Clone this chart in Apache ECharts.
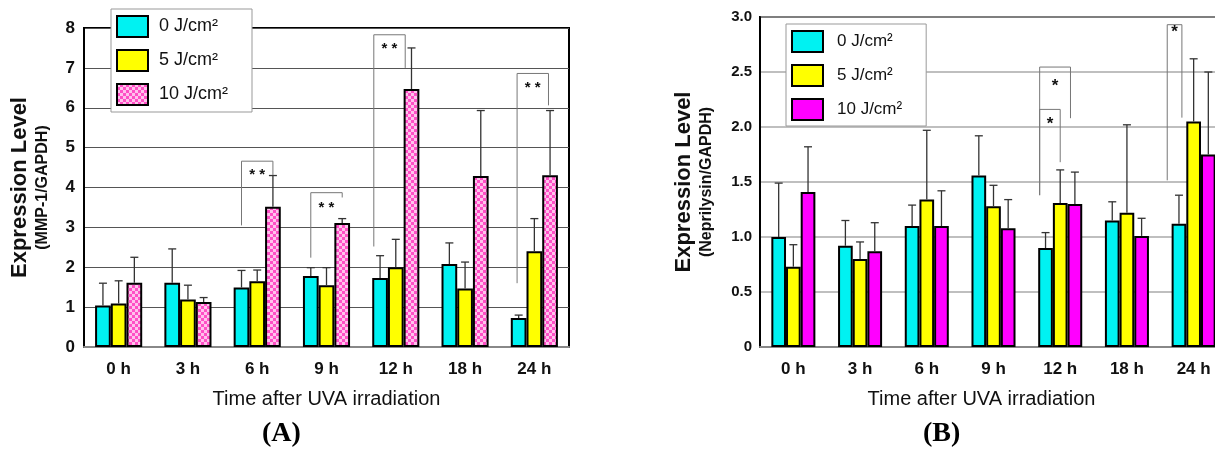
<!DOCTYPE html>
<html>
<head>
<meta charset="utf-8">
<script src="https://cdn.jsdelivr.net/npm/echarts@6/dist/echarts.min.js"></script>
<style>
  html, body { margin: 0; padding: 0; background: #fff; overflow: hidden; }
  /* a bit wider than the window so panel B runs off the right edge like the source */
  #chart { width: 1240px; height: 452px; }
</style>
</head>
<body>
<div id="chart"></div>
<script>
// time points and doses
const hours = ['0 h', '3 h', '6 h', '9 h', '12 h', '18 h', '24 h']
const doses = ['0 J/cm²', '5 J/cm²', '10 J/cm²']

// (A) MMP-1 / GAPDH
const mmp0 = [1.04, 1.61, 1.49, 1.78, 1.73, 2.08, 0.73]
const mmp5 = [1.09, 1.19, 1.65, 1.55, 2.00, 1.47, 2.40]
const mmp10 = [1.61, 1.13, 3.52, 3.11, 6.47, 4.29, 4.31]
const mmpSd0 = [0.56, 0.85, 0.43, 0.21, 0.56, 0.53, 0.07]
const mmpSd5 = [0.57, 0.36, 0.28, 0.44, 0.70, 0.66, 0.82]
const mmpSd10 = [0.64, 0.11, 0.78, 0.11, 1.03, 1.64, 1.62]

// (B) Neprilysin / GAPDH
const nep0 = [1.00, 0.92, 1.10, 1.56, 0.90, 1.15, 1.12]
const nep5 = [0.73, 0.80, 1.34, 1.28, 1.31, 1.22, 2.05]
const nep10 = [1.41, 0.87, 1.10, 1.08, 1.30, 1.01, 1.75]
const nepSd0 = [0.49, 0.23, 0.19, 0.36, 0.14, 0.17, 0.26]
const nepSd5 = [0.20, 0.155, 0.63, 0.19, 0.30, 0.80, 0.57]
const nepSd10 = [0.41, 0.26, 0.32, 0.26, 0.29, 0.16, 0.75]

// significance brackets: [category, left slot, right slot, top, left end, right end, label y, text]
const mmpStars = [
  [2, -1, 1, 4.66, 3.05, 4.31, 4.31, '* *'],
  [3, -1, 1, 3.87, 2.24, 3.75, 3.50, '* *'],
  [4, -1.4, 0.6, 7.83, 2.52, 7.00, 7.47, '* *'],
  [6, -1.1, 0.9, 6.86, 1.60, 6.06, 6.50, '* *']
]
const nepStars = [
  [4, -1.4, 0.7, 2.545, 1.38, 2.08, 2.37, '*'],
  [4, -1.4, 0, 2.16, 1.38, 1.68, 2.02, '*'],
  [6, -1.8, -0.8, 2.93, 1.515, 2.085, 2.86, '*']
]

// checkered pink fill for the 10 J/cm2 bars in (A)
const pat = document.createElement('canvas')
pat.width = 6
pat.height = 6
const pctx = pat.getContext('2d')
pctx.fillStyle = '#ff4fc6'
pctx.fillRect(0, 0, 6, 6)
pctx.fillStyle = '#ffc2ec'
pctx.fillRect(0, 0, 3, 3)
pctx.fillRect(3, 3, 3, 3)

const mmpColors = ['#00f2f2', '#ffff00', { image: pat, repeat: 'repeat' }]
const nepColors = ['#00f2f2', '#ffff00', '#ff00ff']

const font = 'Liberation Sans, Arial, sans-serif'

function errSeries(idx, gap, means, sds) {
  const data = []
  means.forEach((m, s) => {
    m.forEach((v, c) => data.push([c, s, v, v + sds[s][c]]))
  })
  return {
    type: 'custom',
    xAxisIndex: idx,
    yAxisIndex: idx,
    z: 5,
    silent: true,
    data,
    renderItem(params, api) {
      const band = api.size([1, 0])[0]
      const bw = band * (1 - gap) / 3
      const dx = (api.value(1) - 1) * bw
      const p0 = api.coord([api.value(0), api.value(2)])
      const p1 = api.coord([api.value(0), api.value(3)])
      const x = p0[0] + dx
      const st = { stroke: '#333', lineWidth: 1.3 }
      return {
        type: 'group',
        children: [
          { type: 'line', shape: { x1: x, y1: p0[1], x2: x, y2: p1[1] }, style: st },
          { type: 'line', shape: { x1: x - 4, y1: p1[1], x2: x + 4, y2: p1[1] }, style: st }
        ]
      }
    }
  }
}

function starSeries(idx, gap, list, fontSize) {
  return {
    type: 'custom',
    xAxisIndex: idx,
    yAxisIndex: idx,
    z: 6,
    silent: true,
    data: list.map(b => [b[0], b[3]]),
    renderItem(params, api) {
      const b = list[params.dataIndex]
      const band = api.size([1, 0])[0]
      const bw = band * (1 - gap) / 3
      const cx = api.coord([b[0], 0])[0]
      const xl = cx + b[1] * bw
      const xr = cx + b[2] * bw
      const yt = api.coord([b[0], b[3]])[1]
      const yl = api.coord([b[0], b[4]])[1]
      const yr = api.coord([b[0], b[5]])[1]
      const ly = api.coord([b[0], b[6]])[1]
      return {
        type: 'group',
        children: [
          {
            type: 'polyline',
            shape: { points: [[xl, yl], [xl, yt], [xr, yt], [xr, yr]] },
            style: { stroke: '#777', lineWidth: 1, fill: null }
          },
          {
            type: 'text',
            style: {
              x: (xl + xr) / 2, y: ly, text: b[7], align: 'center', verticalAlign: 'middle',
              font: 'bold ' + fontSize + 'px ' + font, fill: '#111'
            }
          }
        ]
      }
    }
  }
}

function barSeries(idx, gap, values, colors) {
  return values.map((v, s) => ({
    name: doses[s],
    type: 'bar',
    xAxisIndex: idx,
    yAxisIndex: idx,
    barGap: '0%',
    barCategoryGap: (gap * 100) + '%',
    itemStyle: { color: colors[s], borderColor: '#000', borderWidth: 2 },
    data: v
  }))
}

const gapA = 0.32
const gapB = 0.34

const xAxisBase = {
  type: 'category',
  data: hours,
  name: 'Time after UVA irradiation',
  nameLocation: 'middle',
  nameGap: 42,
  axisLine: { lineStyle: { color: '#888', width: 2 } },
  axisTick: { inside: true, length: 5, lineStyle: { color: '#aaa' } },
  axisLabel: { interval: 0, color: '#111', fontFamily: font, fontWeight: 'bold', fontSize: 17, margin: 14 }
}

const legendBase = {
  orient: 'vertical',
  itemWidth: 31,
  itemHeight: 21,
  itemGap: 11,
  icon: 'rect',
  backgroundColor: '#fff',
  borderColor: '#999',
  borderWidth: 1,
  textStyle: { fontFamily: font, fontSize: 18, color: '#111', padding: [0, 0, 0, 6] }
}

const yNameRich = {
  a: { fontFamily: font, fontSize: 22, fontWeight: 'bold', lineHeight: 24, color: '#111' },
  b: { fontFamily: font, fontSize: 16, fontWeight: 'bold', lineHeight: 22, color: '#111' }
}

const option = {
  animation: false,
  backgroundColor: '#fff',
  grid: [
    { left: 84, top: 28, width: 485, bottom: 105, show: true, borderColor: '#000', borderWidth: 2 },
    { left: 760, top: 17, right: 13, bottom: 105, show: true, borderColor: '#000', borderWidth: 2 }
  ],
  legend: [
    Object.assign({}, legendBase, { left: 111, top: 9, padding: [6, 24, 6, 5], data: doses }),
    Object.assign({}, legendBase, {
      left: 786, top: 24, padding: [6, 24, 5, 5],
      textStyle: Object.assign({}, legendBase.textStyle, { fontSize: 17, padding: [0, 0, 0, 9] }),
      data: doses.map((n, i) => ({ name: n, itemStyle: { color: nepColors[i] } }))
    })
  ],
  xAxis: [
    Object.assign({}, xAxisBase, {
      gridIndex: 0,
      nameTextStyle: { fontFamily: font, fontSize: 20, color: '#111' }
    }),
    Object.assign({}, xAxisBase, {
      gridIndex: 1,
      nameTextStyle: { fontFamily: font, fontSize: 20, color: '#111', padding: [0, 24, 0, 0] }
    })
  ],
  yAxis: [
    {
      type: 'value',
      gridIndex: 0,
      min: 0,
      max: 8,
      interval: 1,
      name: '{a|Expression Level}\n{b|(MMP-1/GAPDH)}',
      nameLocation: 'middle',
      nameGap: 30,
      nameTextStyle: { color: '#111', rich: yNameRich },
      axisLine: { show: true, lineStyle: { color: '#000', width: 2 } },
      axisTick: { show: false },
      axisLabel: { color: '#111', fontFamily: font, fontWeight: 'bold', fontSize: 17, margin: 9 },
      splitLine: { lineStyle: { color: '#555', width: 1 } }
    },
    {
      type: 'value',
      gridIndex: 1,
      min: 0,
      max: 3,
      interval: 0.5,
      name: '{a|Expression Level}\n{b|(Neprilysin/GAPDH)}',
      nameLocation: 'middle',
      nameGap: 42,
      nameTextStyle: { color: '#111', rich: yNameRich },
      axisLine: { show: true, lineStyle: { color: '#000', width: 2 } },
      axisTick: { show: false },
      axisLabel: {
        color: '#111', fontFamily: font, fontWeight: 'bold', fontSize: 15, margin: 8,
        formatter: v => (v === 0 ? '0' : v.toFixed(1))
      },
      splitLine: { lineStyle: { color: '#aaa', width: 1.5 } }
    }
  ],
  graphic: [
    { type: 'text', left: 262, top: 420, style: { text: '(A)', font: 'bold 28px Liberation Serif, Times New Roman, serif', fill: '#000' } },
    { type: 'text', left: 923, top: 420, style: { text: '(B)', font: 'bold 28px Liberation Serif, Times New Roman, serif', fill: '#000' } }
  ],
  series: [
    ...barSeries(0, gapA, [mmp0, mmp5, mmp10], mmpColors),
    errSeries(0, gapA, [mmp0, mmp5, mmp10], [mmpSd0, mmpSd5, mmpSd10]),
    starSeries(0, gapA, mmpStars, 15),
    ...barSeries(1, gapB, [nep0, nep5, nep10], nepColors),
    errSeries(1, gapB, [nep0, nep5, nep10], [nepSd0, nepSd5, nepSd10]),
    starSeries(1, gapB, nepStars, 17)
  ]
}

const myChart = echarts.init(document.getElementById('chart'))
myChart.setOption(option)
window.addEventListener('resize', function() {
  myChart.resize()
})
</script>
</body>
</html>
